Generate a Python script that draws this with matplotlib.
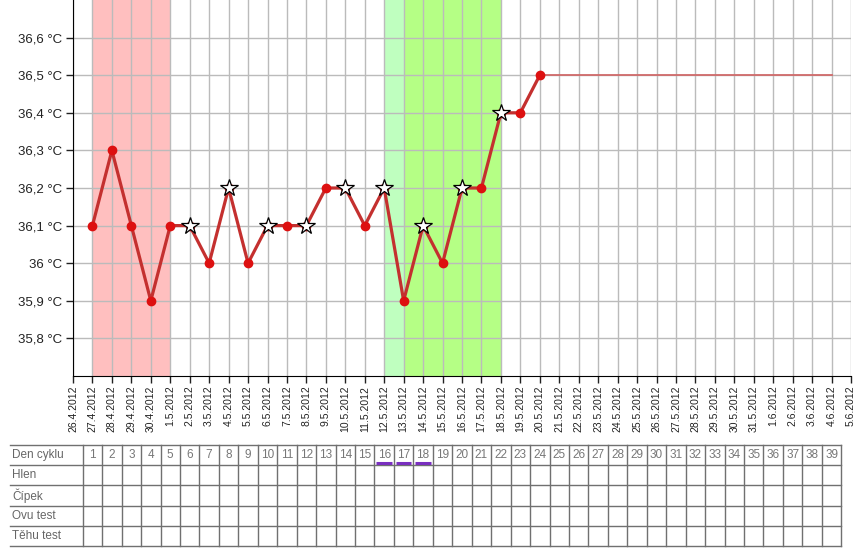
import matplotlib
matplotlib.use('Agg')
import matplotlib.pyplot as plt
import matplotlib.dates as mdates
from matplotlib.ticker import FuncFormatter, FixedLocator
import pandas as pd
import numpy as np

plt.rcParams['font.family'] = ['Liberation Sans', 'DejaVu Sans']

# Measured temperatures
temp_dates = ['27.4.2012', '28.4.2012', '29.4.2012', '30.4.2012', '1.5.2012',
              '2.5.2012', '3.5.2012', '4.5.2012', '5.5.2012', '6.5.2012',
              '7.5.2012', '8.5.2012', '9.5.2012', '10.5.2012', '11.5.2012',
              '12.5.2012', '13.5.2012', '14.5.2012', '15.5.2012', '16.5.2012',
              '17.5.2012', '18.5.2012', '19.5.2012', '20.5.2012']
temps = [36.1, 36.3, 36.1, 35.9, 36.1,
         36.1, 36.0, 36.2, 36.0, 36.1,
         36.1, 36.1, 36.2, 36.2, 36.1,
         36.2, 35.9, 36.1, 36.0, 36.2,
         36.2, 36.4, 36.4, 36.5]
# Days marked with a star
star_dates = ['2.5.2012', '4.5.2012', '6.5.2012', '8.5.2012', '10.5.2012',
              '12.5.2012', '14.5.2012', '16.5.2012', '18.5.2012']

# Flat continuation line
flat_dates = ['20.5.2012', '4.6.2012']
flat_temps = [36.5, 36.5]

# Shaded periods (start, end, colour)
periods = [('27.4.2012', '1.5.2012', '#ffbfbf'),
           ('12.5.2012', '13.5.2012', '#bfffbf'),
           ('13.5.2012', '18.5.2012', '#b5ff85')]

axis_start = '26.4.2012'
axis_end = '5.6.2012'
y_ticks = [35.8, 35.9, 36.0, 36.1, 36.2, 36.3, 36.4, 36.5, 36.6]

# Table below chart
row_labels = ['Den cyklu', 'Hlen', 'Čípek', 'Ovu test', 'Těhu test']
cycle_days = list(range(1, 40))
marked_days = [16, 17, 18]


def d(s):
    return mdates.date2num(pd.to_datetime(s, format='%d.%m.%Y'))


fig = plt.figure(figsize=(8.6, 5.5), dpi=100)
W, H = 860, 550
x0, x1 = 73, 851
ax = fig.add_axes([x0 / W, 1 - 376 / H, (x1 - x0) / W, 376 / H])

for a, b, c in periods:
    ax.axvspan(d(a), d(b), color=c, zorder=0.2, lw=0)

tx = [d(s) for s in temp_dates]
ax.plot([d(s) for s in flat_dates], flat_temps, color='#d06a6a', lw=1.3, zorder=2)
ax.plot(tx, temps, color='#c4302f', lw=2.3, zorder=3)
ax.plot(tx, temps, 'o', color='#dd1010', ms=6, zorder=4)
sx = [d(s) for s in star_dates]
sy = [temps[temp_dates.index(s)] for s in star_dates]
ax.plot(sx, sy, '*', ms=13, mfc='white', mec='black', mew=0.9, zorder=5)

ax.set_xlim(d(axis_start), d(axis_end))
ax.set_ylim(35.7, 36.7)
xt = np.arange(d(axis_start), d(axis_end) + 0.5, 1)
ax.xaxis.set_major_locator(FixedLocator(xt))


def fmt_date(v, pos):
    t = mdates.num2date(v)
    return f'{t.day}.{t.month}.{t.year}'


ax.xaxis.set_major_formatter(FuncFormatter(fmt_date))
ax.set_yticks(y_ticks)
ax.set_yticklabels([f'{v:g} °C'.replace('.', ',') for v in y_ticks])
ax.tick_params(axis='x', labelrotation=90, labelsize=7.5, length=5, width=1, pad=2, colors='#222')
ax.tick_params(axis='y', labelsize=9.5, length=5, width=1, pad=3, colors='#222')
ax.set_axisbelow('line')
ax.grid(True, color='#bbbbbb', lw=1)
for sp in ['top', 'right']:
    ax.spines[sp].set_visible(False)
ax.spines['left'].set_color('black')
ax.spines['bottom'].set_color('black')

# Table
tb_top, tb_bot = 445, 546
tax = fig.add_axes([x0 / W, 1 - tb_bot / H, (x1 - x0) / W, (tb_bot - tb_top) / H])
tax.set_xlim(ax.get_xlim())
tax.set_ylim(5, 0)
tax.axis('off')
px = (x1 - x0) / (d(axis_end) - d(axis_start))
left = d(axis_start) - (x0 - 10) / px
first = d(axis_start) + 0.5
last = first + len(cycle_days)
gcol = '#707070'
for r in range(6):
    tax.plot([left, last], [r, r], color=gcol, lw=1, clip_on=False)
for k in range(len(cycle_days) + 1):
    tax.plot([first + k, first + k], [0, 5], color=gcol, lw=1, clip_on=False)
for r, lab in enumerate(row_labels):
    tax.text(left + 0.1, r + 0.5, lab, va='center', ha='left', fontsize=8.5, color='#666666')
for k, n in enumerate(cycle_days):
    tax.text(first + k + 0.5, 0.5, str(n), va='center', ha='center', fontsize=8.5, color='#777777')
    if n in marked_days:
        tax.plot([first + k + 0.1, first + k + 0.9], [0.88, 0.88], color='#7a2fc0', lw=2.2,
                 solid_capstyle='butt', clip_on=False)

fig.savefig('out.png', dpi=100)
